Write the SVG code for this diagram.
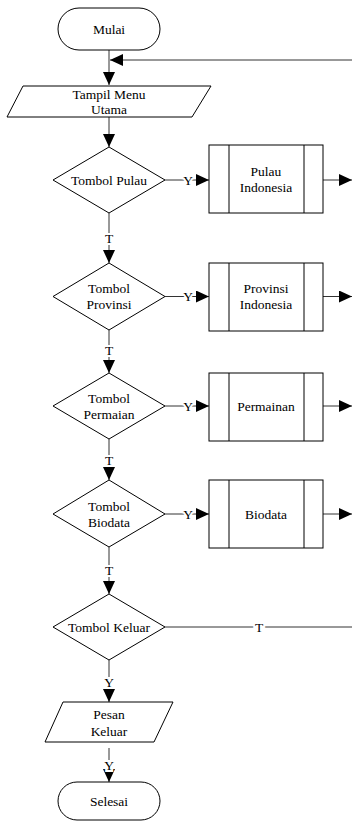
<svg xmlns="http://www.w3.org/2000/svg" width="352" height="821" viewBox="0 0 352 821" font-family="'Liberation Serif', 'Times New Roman', 'DejaVu Serif', serif">
<style>
.s{fill:#fff;stroke:#000;stroke-width:1}
.c{fill:none;stroke:#333;stroke-width:1}
text{font-family:'Liberation Serif','Times New Roman','DejaVu Serif',serif;font-size:13.5px;fill:#000;text-anchor:middle}
.l{stroke:#fff;stroke-width:4;paint-order:stroke}
</style>
<defs>
<marker id="a" markerUnits="userSpaceOnUse" markerWidth="14" markerHeight="12" refX="13" refY="6" orient="auto">
<path d="M0,0 L13,6 L0,12 Z" fill="#000"/>
</marker>
</defs>
<g id="connectors">
<path class="c" d="M109,50 V85" marker-end="url(#a)"/>
<path class="c" d="M352,60 H110" marker-end="url(#a)"/>
<path class="c" d="M109,117 V147" marker-end="url(#a)"/>
<path class="c" d="M165,180 H209" marker-end="url(#a)"/>
<path class="c" d="M323,180 H352" marker-end="url(#a)"/>
<path class="c" d="M109,213 V263" marker-end="url(#a)"/>
<path class="c" d="M165,296.5 H209" marker-end="url(#a)"/>
<path class="c" d="M323,296.5 H352" marker-end="url(#a)"/>
<path class="c" d="M109,330 V373" marker-end="url(#a)"/>
<path class="c" d="M165,406 H209" marker-end="url(#a)"/>
<path class="c" d="M323,406 H352" marker-end="url(#a)"/>
<path class="c" d="M109,439 V480" marker-end="url(#a)"/>
<path class="c" d="M165,514 H209" marker-end="url(#a)"/>
<path class="c" d="M323,514 H352" marker-end="url(#a)"/>
<path class="c" d="M109,547 V594" marker-end="url(#a)"/>
<path class="c" d="M165,627 H352"/>
<path class="c" d="M109,660 V702" marker-end="url(#a)"/>
<path class="c" d="M109,748 V782" marker-end="url(#a)"/>
<text class="l" x="188" y="185">Y</text>
<text class="l" x="188" y="301">Y</text>
<text class="l" x="188" y="411">Y</text>
<text class="l" x="188" y="519">Y</text>
<text class="l" x="109" y="243">T</text>
<text class="l" x="109" y="355">T</text>
<text class="l" x="109" y="465">T</text>
<text class="l" x="109" y="575">T</text>
<text class="l" x="259" y="632">T</text>
<text class="l" x="109" y="687">Y</text>
<text class="l" x="109" y="770">Y</text>
</g>
<g id="mulai">
<rect class="s" x="58" y="8" width="102" height="42" rx="21"/>
<text x="109" y="34">Mulai</text>
</g>
<g id="tampil-menu">
<path class="s" d="M23,86 H211 L192,117 H7 Z"/>
<text x="109" y="99">Tampil Menu</text>
<text x="109" y="114">Utama</text>
</g>
<g id="tombol-pulau">
<path class="s" d="M109,147 L165,180 L109,213 L53,180 Z"/>
<text x="109" y="185">Tombol Pulau</text>
</g>
<g id="pulau-indonesia">
<rect class="s" x="209" y="145" width="114" height="68"/>
<path class="s" d="M229,145 V213 M304,145 V213"/>
<text x="266" y="176">Pulau</text>
<text x="266" y="192">Indonesia</text>
</g>
<g id="tombol-provinsi">
<path class="s" d="M109,263 L165,296.5 L109,330 L53,296.5 Z"/>
<text x="109" y="293">Tombol</text>
<text x="109" y="309">Provinsi</text>
</g>
<g id="provinsi-indonesia">
<rect class="s" x="209" y="263" width="114" height="68"/>
<path class="s" d="M229,263 V331 M304,263 V331"/>
<text x="266" y="293">Provinsi</text>
<text x="266" y="309">Indonesia</text>
</g>
<g id="tombol-permaian">
<path class="s" d="M109,373 L165,406 L109,439 L53,406 Z"/>
<text x="109" y="403">Tombol</text>
<text x="109" y="419">Permaian</text>
</g>
<g id="permainan">
<rect class="s" x="209" y="373" width="114" height="68"/>
<path class="s" d="M229,373 V441 M304,373 V441"/>
<text x="266" y="411">Permainan</text>
</g>
<g id="tombol-biodata">
<path class="s" d="M109,480 L165,514 L109,547 L53,514 Z"/>
<text x="109" y="511">Tombol</text>
<text x="109" y="527">Biodata</text>
</g>
<g id="biodata">
<rect class="s" x="209" y="480" width="114" height="68"/>
<path class="s" d="M229,480 V548 M304,480 V548"/>
<text x="266" y="519">Biodata</text>
</g>
<g id="tombol-keluar">
<path class="s" d="M109,594 L165,627 L109,660 L53,627 Z"/>
<text x="109" y="632">Tombol Keluar</text>
</g>
<g id="pesan-keluar">
<path class="s" d="M63,702 H173 L154,742 H45 Z"/>
<text x="109" y="719">Pesan</text>
<text x="109" y="736">Keluar</text>
</g>
<g id="selesai">
<rect class="s" x="58" y="782" width="102" height="38" rx="19"/>
<text x="109" y="806">Selesai</text>
</g>
</svg>
